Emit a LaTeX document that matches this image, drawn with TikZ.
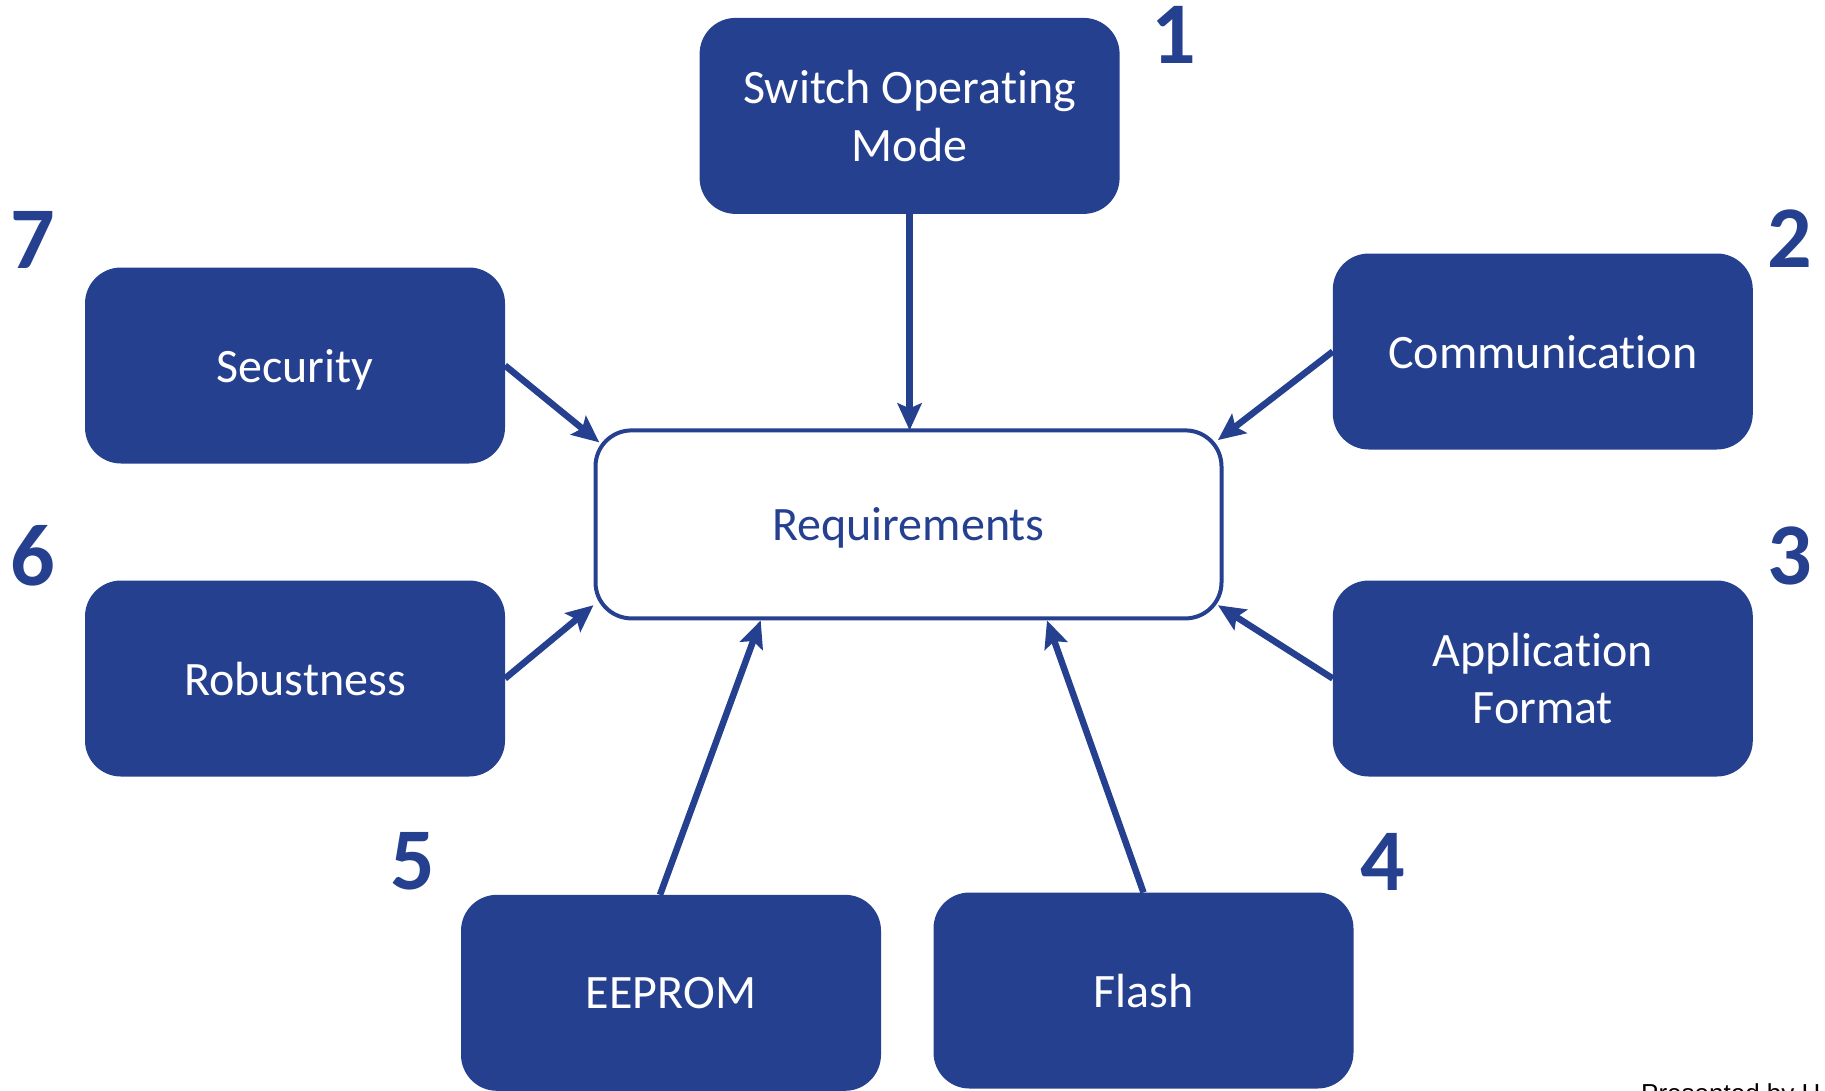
\documentclass[tikz,border=0pt]{standalone}
\usepackage{fontspec}
\setmainfont{Carlito}[Ligatures={NoCommon}]
\newfontfamily\arialfont{Liberation Sans}
\usetikzlibrary{arrows.meta,calc}
\definecolor{navy}{RGB}{38,64,144}
\begin{document}
\begin{tikzpicture}[x=1pt,y=-1pt,
  bluebox/.style={rectangle, rounded corners=36pt, fill=navy, text=white,
    minimum width=420pt, minimum height=196pt, inner sep=0pt, outer sep=0pt,
    text depth=0pt, align=center, font=\fontsize{48}{57.6}\selectfont},
  reqbox/.style={rectangle, rounded corners=36pt, draw=navy, line width=4pt, fill=white,
    text=navy, minimum width=626pt, minimum height=188pt, inner sep=0pt, outer sep=0pt,
    text depth=0pt, font=\fontsize{48}{57.6}\selectfont},
  numlabel/.style={text=navy, font=\bfseries\fontsize{88}{88}\selectfont, inner sep=0pt, outer sep=0pt},
  conn/.style={draw=navy, line width=6.5pt, -{Stealth[length=27pt,width=24pt,inset=5pt]}},
  footnote/.style={text=black, font=\arialfont\fontsize{26}{26}\selectfont, inner sep=0pt, anchor=base west}]

\useasboundingbox (0,0) rectangle (1825,1090);
\fill[white] (0,0) rectangle (1825,1090);

% central node
\node[reqbox] (req) at (908.5,524.4) {Requirements};

% surrounding boxes
\node[bluebox] (sw) at (909.6,115.9) {Switch Operating\\Mode};
\node[bluebox] (comm) at (1542.8,351.5) {Communication};
\node[bluebox] (app) at (1542.8,678.5) {Application\\Format};
\node[bluebox] (flash) at (1143.5,990.5) {Flash};
\node[bluebox] (eeprom) at (671,992.8) {EEPROM};
\node[bluebox] (rob) at (295,678.5) {Robustness};
\node[bluebox] (sec) at (295,365.5) {Security};

% number labels
\node[numlabel] (n1) at (1174,35) {1};
\node[numlabel] (n2) at (1790,239) {2};
\node[numlabel] (n3) at (1790,556) {3};
\node[numlabel] (n4) at (1383,862) {4};
\node[numlabel] (n5) at (412.5,861) {5};
\node[numlabel] (n6) at (32.6,556) {6};
\node[numlabel] (n7) at (32.6,240) {7};

% connectors
\draw[conn] (sw.south) -- (sw.south |- req.north);
\draw[conn] (comm.west) -- ($(req.north east)+(-3.6,9.7)$);
\draw[conn] (app.west) -- ($(req.south east)+(-3.6,-13.2)$);
\draw[conn] (flash.north) -- ($(req.south)+(138.5,2)$);
\draw[conn] ($(eeprom.north)+(-11,0)$) -- ($(req.south)+(-147.8,2)$);
\draw[conn] (rob.east) -- ($(req.south west)+(-2,-13.2)$);
\draw[conn] (sec.east) -- ($(req.north west)+(3.8,12)$);

% partially visible footer text, cut by the page edge
\begin{scope}
  \clip (0,0) rectangle (1825,1090);
  \node[footnote] (foot) at (1641,1102.5) {Presented by H};
\end{scope}
\end{tikzpicture}
\end{document}
